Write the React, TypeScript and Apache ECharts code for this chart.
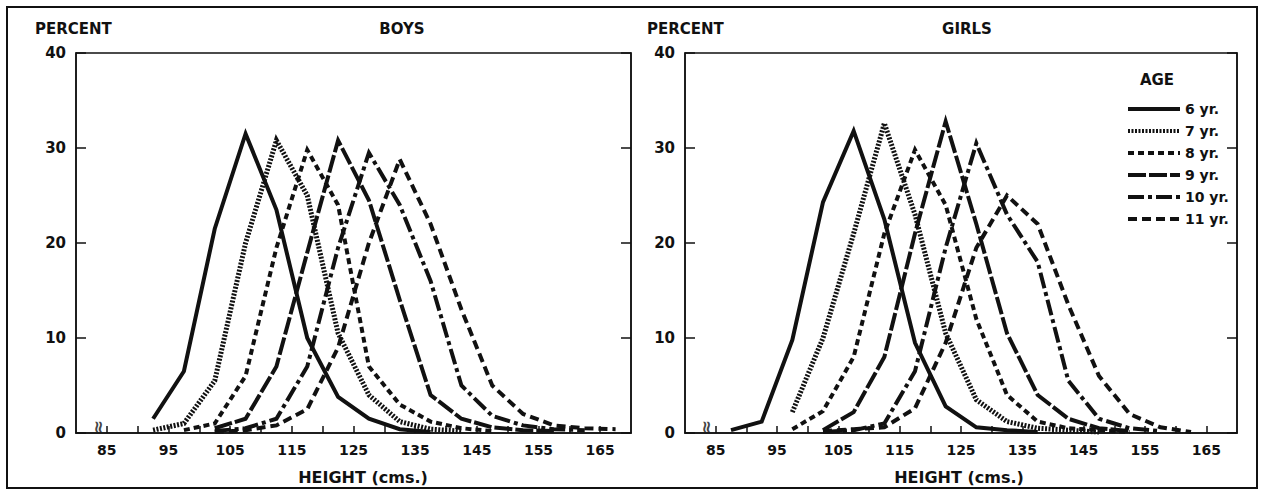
import React, { useEffect, useRef } from "react";
import * as echarts from "echarts";

// Class midpoints (cm)
const HEIGHTS = [87.5, 92.5, 97.5, 102.5, 107.5, 112.5, 117.5, 122.5, 127.5, 132.5, 137.5, 142.5, 147.5, 152.5, 157.5, 162.5, 167.5];
const AGES = ["6 yr.", "7 yr.", "8 yr.", "9 yr.", "10 yr.", "11 yr."];

// Boys percent by height class
const BOYS_6 = [null, 1.5, 6.5, 21.5, 31.5, 23.5, 10, 3.8, 1.5, 0.4, 0.1, null, null, null, null, null, null];
const BOYS_7 = [null, 0.3, 1.0, 5.5, 20, 30.8, 25, 10.5, 4, 1.2, 0.4, 0.2, null, null, null, null, null];
const BOYS_8 = [null, null, 0.3, 1.0, 6, 19.5, 29.8, 24, 7, 3, 1.2, 0.5, 0.2, null, null, null, null];
const BOYS_9 = [null, null, null, 0.5, 1.5, 7, 19, 30.8, 24.5, 14, 4, 1.5, 0.6, 0.3, 0.2, null, null];
const BOYS_10 = [null, null, null, 0.2, 0.5, 1.5, 7, 19.5, 29.5, 24, 16, 5, 1.8, 0.8, 0.4, 0.3, null];
const BOYS_11 = [null, null, null, 0.1, 0.3, 0.8, 2.5, 9, 20, 28.8, 22, 13, 5, 2, 0.8, 0.5, 0.4];

// Girls percent by height class
const GIRLS_6 = [0.3, 1.2, 9.8, 24.3, 31.8, 22.5, 9.5, 2.8, 0.6, 0.3, 0.1, null, null, null, null, null, null];
const GIRLS_7 = [null, null, 2.2, 10, 21, 32.6, 23, 10.5, 3.5, 1.2, 0.5, 0.3, 0.1, null, null, null, null];
const GIRLS_8 = [null, null, 0.4, 2.3, 8, 21, 29.8, 24, 12, 4, 1.2, 0.5, 0.3, 0.1, null, null, null];
const GIRLS_9 = [null, null, null, 0.3, 2.2, 8, 21, 32.8, 22, 10.5, 4, 1.5, 0.5, 0.2, null, null, null];
const GIRLS_10 = [null, null, null, 0.1, 0.3, 1, 6.5, 19.5, 30.5, 23, 18, 5.5, 1.5, 0.5, 0.2, null, null];
const GIRLS_11 = [null, null, null, 0.2, 0.4, 0.6, 2.6, 9.5, 19.5, 25, 22, 13.5, 6, 2, 0.6, 0.1, null];

const BOYS = [BOYS_6, BOYS_7, BOYS_8, BOYS_9, BOYS_10, BOYS_11];
const GIRLS = [GIRLS_6, GIRLS_7, GIRLS_8, GIRLS_9, GIRLS_10, GIRLS_11];

const X_TICKS = [85, 90, 95, 100, 105, 110, 115, 120, 125, 130, 135, 140, 145, 150, 155, 160, 165];
const X_LABELS = [85, 95, 105, 115, 125, 135, 145, 155, 165];
const X_MIN = 80;
const X_MAX = 170;
const Y_MAX = 40;
const Y_STEP = 10;
const BREAK_AT = 83.5;

const INK = "#111";
const FONT = "DejaVu Sans";
const DASHES: any[] = ["solid", [2, 1.5], [6, 4], [18, 3], [16, 4, 4, 4], [9, 5]];
const WIDTHS = [4, 5, 4, 4, 4, 4];

function pairs(vals: (number | null)[]) {
  const out: number[][] = [];
  HEIGHTS.forEach((h, i) => {
    const v = vals[i];
    if (v !== null && v !== undefined) out.push([h, v]);
  });
  return out;
}

export default function App() {
  const ref = useRef<HTMLDivElement>(null);
  useEffect(() => {
    if (!ref.current) return;
    const chart = echarts.init(ref.current, null, { renderer: "svg" });

    const xAxis = (gridIndex: number) => ({
      type: "value",
      gridIndex,
      min: X_MIN,
      max: X_MAX,
      axisLine: { show: true, lineStyle: { color: INK, width: 1.5 } },
      axisTick: { show: true, inside: true, length: 7, customValues: X_TICKS, lineStyle: { color: INK, width: 1.5 } },
      axisLabel: { show: true, customValues: X_LABELS, margin: 10, color: INK, fontFamily: FONT, fontWeight: "bold", fontSize: 14 },
      splitLine: { show: false },
    });
    const yAxis = (gridIndex: number, right: boolean) => ({
      type: "value",
      gridIndex,
      position: right ? "right" : "left",
      min: 0,
      max: Y_MAX,
      interval: Y_STEP,
      axisLine: { show: true, lineStyle: { color: INK, width: 1.5 } },
      axisTick: { show: true, inside: true, length: 10, lineStyle: { color: INK, width: 1.5 } },
      axisLabel: { show: !right, margin: 10, color: INK, fontFamily: FONT, fontWeight: "bold", fontSize: 15 },
      splitLine: { show: false },
    });

    const lineSeries = (data: (number | null)[][], gridIdx: number) =>
      data.map((vals, k) => ({
        type: "line",
        name: AGES[k],
        xAxisIndex: gridIdx,
        yAxisIndex: gridIdx * 2,
        data: pairs(vals),
        symbol: "none",
        showSymbol: false,
        silent: true,
        lineStyle: { color: INK, width: WIDTHS[k], type: DASHES[k], cap: "butt", join: "miter" },
        itemStyle: { color: INK },
      }));

    const breakSeries = (gridIdx: number) => ({
      type: "scatter",
      name: "break" + gridIdx,
      xAxisIndex: gridIdx,
      yAxisIndex: gridIdx * 2,
      data: [[BREAK_AT, 0]],
      symbolSize: 0,
      silent: true,
      label: {
        show: true,
        formatter: "≈",
        position: "inside",
        rotate: 90,
        offset: [6, 0],
        color: INK,
        fontFamily: FONT,
        fontWeight: "bold",
        fontSize: 17,
      },
    });

    const text = (t: string, x: number, y: number, align: string, size: number) => ({
      type: "text",
      x,
      y,
      silent: true,
      style: {
        text: t,
        align,
        textAlign: align,
        verticalAlign: "middle",
        textVerticalAlign: "middle",
        fill: INK,
        font: `bold ${size}px '${FONT}'`,
      },
    });

    chart.setOption({
      animation: false,
      backgroundColor: "#fff",
      grid: [
        { left: 76, top: 53, width: 555, height: 380, show: true, borderColor: INK, borderWidth: 1.5, backgroundColor: "transparent" },
        { left: 685, top: 53, width: 552, height: 380, show: true, borderColor: INK, borderWidth: 1.5, backgroundColor: "transparent" },
      ],
      xAxis: [xAxis(0), xAxis(1)],
      yAxis: [yAxis(0, false), yAxis(0, true), yAxis(1, false), yAxis(1, true)],
      legend: {
        data: AGES,
        orient: "vertical",
        left: 1121,
        top: 97,
        itemWidth: 52,
        itemHeight: 12,
        itemGap: 8,
        selectedMode: false,
        itemStyle: { opacity: 0, borderWidth: 0 },
        lineStyle: { width: 4 },
        textStyle: { color: INK, fontFamily: FONT, fontWeight: "bold", fontSize: 14 },
      },
      graphic: [
        { type: "rect", silent: true, shape: { x: 7, y: 7, width: 1250, height: 481 }, style: { fill: "none", stroke: INK, lineWidth: 2 } },
        text("PERCENT", 35, 29, "left", 15),
        text("BOYS", 402, 29, "center", 15),
        text("PERCENT", 647, 29, "left", 15),
        text("GIRLS", 967, 29, "center", 15),
        text("HEIGHT (cms.)", 363, 477, "center", 16),
        text("HEIGHT (cms.)", 959, 477, "center", 16),
        text("AGE", 1157, 80, "center", 15),
      ],
      series: [...lineSeries(BOYS, 0), ...lineSeries(GIRLS, 1), breakSeries(0), breakSeries(1)],
    });

    return () => chart.dispose();
  }, []);

  return <div ref={ref} style={{ position: "fixed", left: 0, top: 0, width: 1265, height: 491, background: "#fff" }} />;
}
